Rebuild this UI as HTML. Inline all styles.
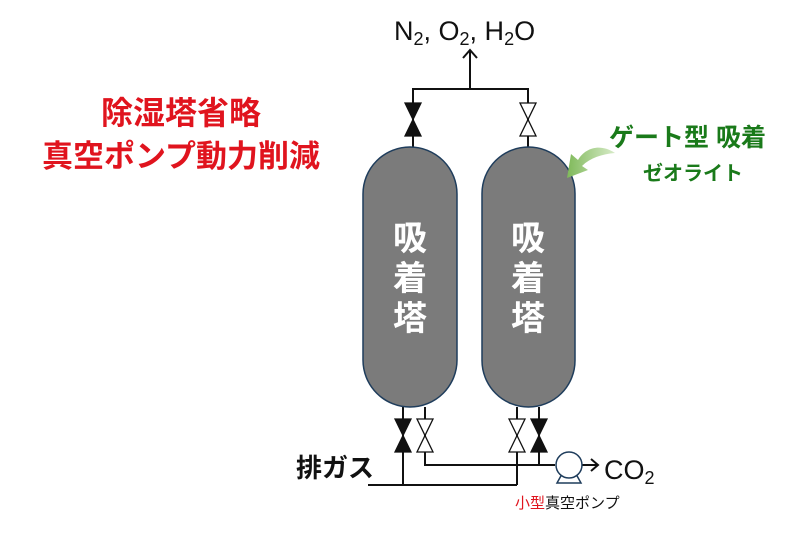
<!DOCTYPE html>
<html><head><meta charset="utf-8"><style>
body{margin:0;width:800px;height:533px;background:#fff;overflow:hidden}
</style></head><body>
<svg width="800" height="533" viewBox="0 0 800 533" xmlns="http://www.w3.org/2000/svg" font-family="'Liberation Sans','Noto Sans CJK JP',sans-serif">
<defs>
<linearGradient id="g" x1="0" y1="0" x2="1" y2="0"><stop offset="0" stop-color="#7fb95a"/><stop offset="1" stop-color="#d7ebc8"/></linearGradient>
</defs>
<text x="181" y="124" font-size="32" font-weight="bold" fill="#e0141e" text-anchor="middle">除湿塔省略</text>
<text x="181" y="167" font-size="31" font-weight="bold" fill="#e0141e" text-anchor="middle">真空ポンプ動力削減</text>
<text x="394" y="40" font-size="27" fill="#111">N<tspan font-size="18" dy="5">2</tspan><tspan dy="-5">, O</tspan><tspan font-size="18" dy="5">2</tspan><tspan dy="-5">, H</tspan><tspan font-size="18" dy="5">2</tspan><tspan dy="-5">O</tspan></text>
<g stroke="#111" stroke-width="2" fill="none">
<path d="M470 89V50M463 58l7-8 7 8"/>
<path d="M413 147V89H528V147"/>
<path d="M403 407V485M425 407V465H555M517 407V485M539 407V465M368 485H517"/>
<path d="M582 465H598M591 459l7 6-7 6"/>
</g>
<rect x="363" y="147" width="94" height="260" rx="47" fill="#7b7b7b" stroke="#1f3d5c" stroke-width="1.5"/>
<rect x="482" y="147" width="93" height="260" rx="46.5" fill="#7b7b7b" stroke="#1f3d5c" stroke-width="1.5"/>
<g stroke="#111" stroke-width="1.3">
<path d="M405 103H421L405 136H421Z" fill="#111"/>
<path d="M520 103H536L520 136H536Z" fill="#fff"/>
<path d="M395 419H411L395 452H411Z" fill="#111"/>
<path d="M417 419H433L417 452H433Z" fill="#fff"/>
<path d="M509 419H525L509 452H525Z" fill="#fff"/>
<path d="M531 419H547L531 452H547Z" fill="#111"/>
</g>
<g fill="#fff" font-size="34" font-weight="bold" text-anchor="middle">
<text x="410" y="250">吸</text><text x="410" y="290">着</text><text x="410" y="330">塔</text>
<text x="528" y="250">吸</text><text x="528" y="290">着</text><text x="528" y="330">塔</text>
</g>
<path d="M557 483L562 474H576L581 483Z" fill="#fff" stroke="#1f3d5c" stroke-width="1.5"/>
<circle cx="569" cy="465" r="13" fill="#fff" stroke="#1f3d5c" stroke-width="1.5"/>
<text x="604" y="479" font-size="27" fill="#111">CO<tspan font-size="18" dy="5">2</tspan></text>
<text x="296" y="477" font-size="26" font-weight="bold" fill="#111">排ガス</text>
<text x="515" y="508" font-size="15" fill="#111"><tspan fill="#e0141e">小型</tspan>真空ポンプ</text>
<path d="M615 153C600 143 585 148 578 160L571 154L567 178L588 170L582 166C590 158 602 154 615 153Z" fill="url(#g)"/>
<text x="609" y="146" font-size="25" font-weight="bold" fill="#1a7a1a">ゲート型 吸着</text>
<text x="643" y="180" font-size="20" font-weight="bold" fill="#1a7a1a">ゼオライト</text>
</svg>
</body></html>
